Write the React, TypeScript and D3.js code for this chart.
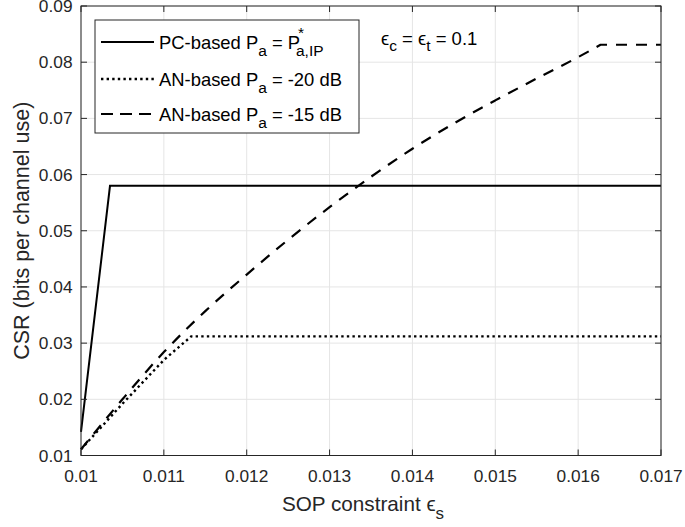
import React from "react";
import * as d3 from "d3";

const xTicks = [0.01, 0.011, 0.012, 0.013, 0.014, 0.015, 0.016, 0.017];
const xTickLabels = ["0.01", "0.011", "0.012", "0.013", "0.014", "0.015", "0.016", "0.017"];
const yTicks = [0.01, 0.02, 0.03, 0.04, 0.05, 0.06, 0.07, 0.08, 0.09];
const yTickLabels = ["0.01", "0.02", "0.03", "0.04", "0.05", "0.06", "0.07", "0.08", "0.09"];

const pcX = [0.01, 0.01035, 0.017];
const pcY = [0.0142, 0.058, 0.058];

const an20X = [0.01, 0.0105, 0.011, 0.01133, 0.017];
const an20Y = [0.0111, 0.0192, 0.027, 0.0312, 0.0312];

// rising part (smooth), then capped flat part
const an15X = [0.01, 0.0105, 0.011, 0.0115, 0.012, 0.0125, 0.013, 0.0135, 0.014, 0.0145, 0.015, 0.0155, 0.016, 0.01627];
const an15Y = [0.0111, 0.02, 0.0284, 0.0357, 0.0422, 0.0484, 0.0542, 0.0596, 0.0646, 0.0691, 0.0732, 0.0771, 0.0809, 0.0831];
const an15CapX = [0.01627, 0.017];
const an15CapY = [0.0831, 0.0831];

const W = 685, H = 527;
const L = 81, R = 661, T = 6, B = 455.5;
const FONT = "'Liberation Sans', Arial, Helvetica, 'DejaVu Sans', sans-serif";
const AX = "#262626";

export default function App() {
  const x = d3.scaleLinear().domain([0.01, 0.017]).range([L, R]);
  const y = d3.scaleLinear().domain([0.01, 0.09]).range([B, T]);
  const line = d3.line<[number, number]>().x(d => x(d[0])).y(d => y(d[1]));
  const smooth = d3.line<[number, number]>().x(d => x(d[0])).y(d => y(d[1])).curve(d3.curveMonotoneX);
  const zip = (a: number[], b: number[]) => a.map((v, i) => [v, b[i]] as [number, number]);

  const capPath = line(zip(an15CapX, an15CapY)) || "";
  const an15Path = (smooth(zip(an15X, an15Y)) || "") + capPath.replace(/^M/, "L");

  const legRows = [42, 79, 114];
  const lgX = 95, lgY = 20, lgW = 264, lgH = 113;

  return (
    <svg width={W} height={H} style={{ position: "absolute", left: 0, top: 0, background: "#fff" }} fontFamily={FONT}>
      <rect x={0} y={0} width={W} height={H} fill="#fff" />
      {xTicks.map((t, i) => (
        <line key={"gx" + i} x1={x(t)} x2={x(t)} y1={T} y2={B} stroke="#e5e5e5" strokeWidth={1} />
      ))}
      {yTicks.map((t, i) => (
        <line key={"gy" + i} x1={L} x2={R} y1={y(t)} y2={y(t)} stroke="#e5e5e5" strokeWidth={1} />
      ))}
      <path d={an15Path} fill="none" stroke="#000" strokeWidth={2.2} strokeDasharray="11,9" />
      <path d={line(zip(an20X, an20Y)) || ""} fill="none" stroke="#000" strokeWidth={2.4} strokeDasharray="2.4,3.2" />
      <path d={line(zip(pcX, pcY)) || ""} fill="none" stroke="#000" strokeWidth={2} />
      <rect x={L} y={T} width={R - L} height={B - T} fill="none" stroke={AX} strokeWidth={1} />
      {xTicks.map((t, i) => (
        <g key={"xt" + i}>
          <line x1={x(t)} x2={x(t)} y1={B} y2={B - 6} stroke={AX} />
          <line x1={x(t)} x2={x(t)} y1={T} y2={T + 6} stroke={AX} />
          <text x={x(t)} y={482} textAnchor="middle" fontSize={17.3} fill={AX}>{xTickLabels[i]}</text>
        </g>
      ))}
      {yTicks.map((t, i) => (
        <g key={"yt" + i}>
          <line x1={L} x2={L + 6} y1={y(t)} y2={y(t)} stroke={AX} />
          <line x1={R} x2={R - 6} y1={y(t)} y2={y(t)} stroke={AX} />
          <text x={72.5} y={y(t) + 6} textAnchor="end" fontSize={17.3} fill={AX}>{yTickLabels[i]}</text>
        </g>
      ))}
      <text x={(L + R) / 2 - 8} y={511} textAnchor="middle" fontSize={20.7} fill={AX}>
        SOP constraint ϵ<tspan dy={8} fontSize={17}>s</tspan>
      </text>
      <text transform={`translate(28.5, ${(T + B) / 2}) rotate(-90)`} textAnchor="middle" fontSize={21.5} fill={AX}>
        CSR (bits per channel use)
      </text>
      <text x={381} y={45} fontSize={18.5} fill="#000">
        ϵ<tspan dy={6} fontSize={15.5}>c</tspan>
        <tspan dy={-6}> = ϵ</tspan>
        <tspan dy={6} fontSize={15.5}>t</tspan>
        <tspan dy={-6}> = 0.1</tspan>
      </text>
      <rect x={lgX} y={lgY} width={lgW} height={lgH} fill="#fff" stroke={AX} strokeWidth={1} />
      <line x1={101} x2={154} y1={legRows[0]} y2={legRows[0]} stroke="#000" strokeWidth={2} />
      <line x1={101} x2={154} y1={legRows[1]} y2={legRows[1]} stroke="#000" strokeWidth={2.4} strokeDasharray="2.4,3.2" />
      <line x1={101} x2={154} y1={legRows[2]} y2={legRows[2]} stroke="#000" strokeWidth={2.2} strokeDasharray="12,7" />
      <text x={159} y={legRows[0] + 7} fontSize={18.4} fill="#000">
        PC-based P<tspan dy={7} fontSize={15.5}>a</tspan>
        <tspan dy={-7}> = P</tspan>
      </text>
      <text x={298} y={legRows[0] - 4} fontSize={15.5} fill="#000">*</text>
      <text x={296} y={legRows[0] + 14} fontSize={15.5} fill="#000">a,IP</text>
      <text x={159} y={legRows[1] + 7} fontSize={18.4} fill="#000">
        AN-based P<tspan dy={7} fontSize={15.5}>a</tspan>
        <tspan dy={-7}> = -20 dB</tspan>
      </text>
      <text x={159} y={legRows[2] + 7} fontSize={18.4} fill="#000">
        AN-based P<tspan dy={7} fontSize={15.5}>a</tspan>
        <tspan dy={-7}> = -15 dB</tspan>
      </text>
    </svg>
  );
}
